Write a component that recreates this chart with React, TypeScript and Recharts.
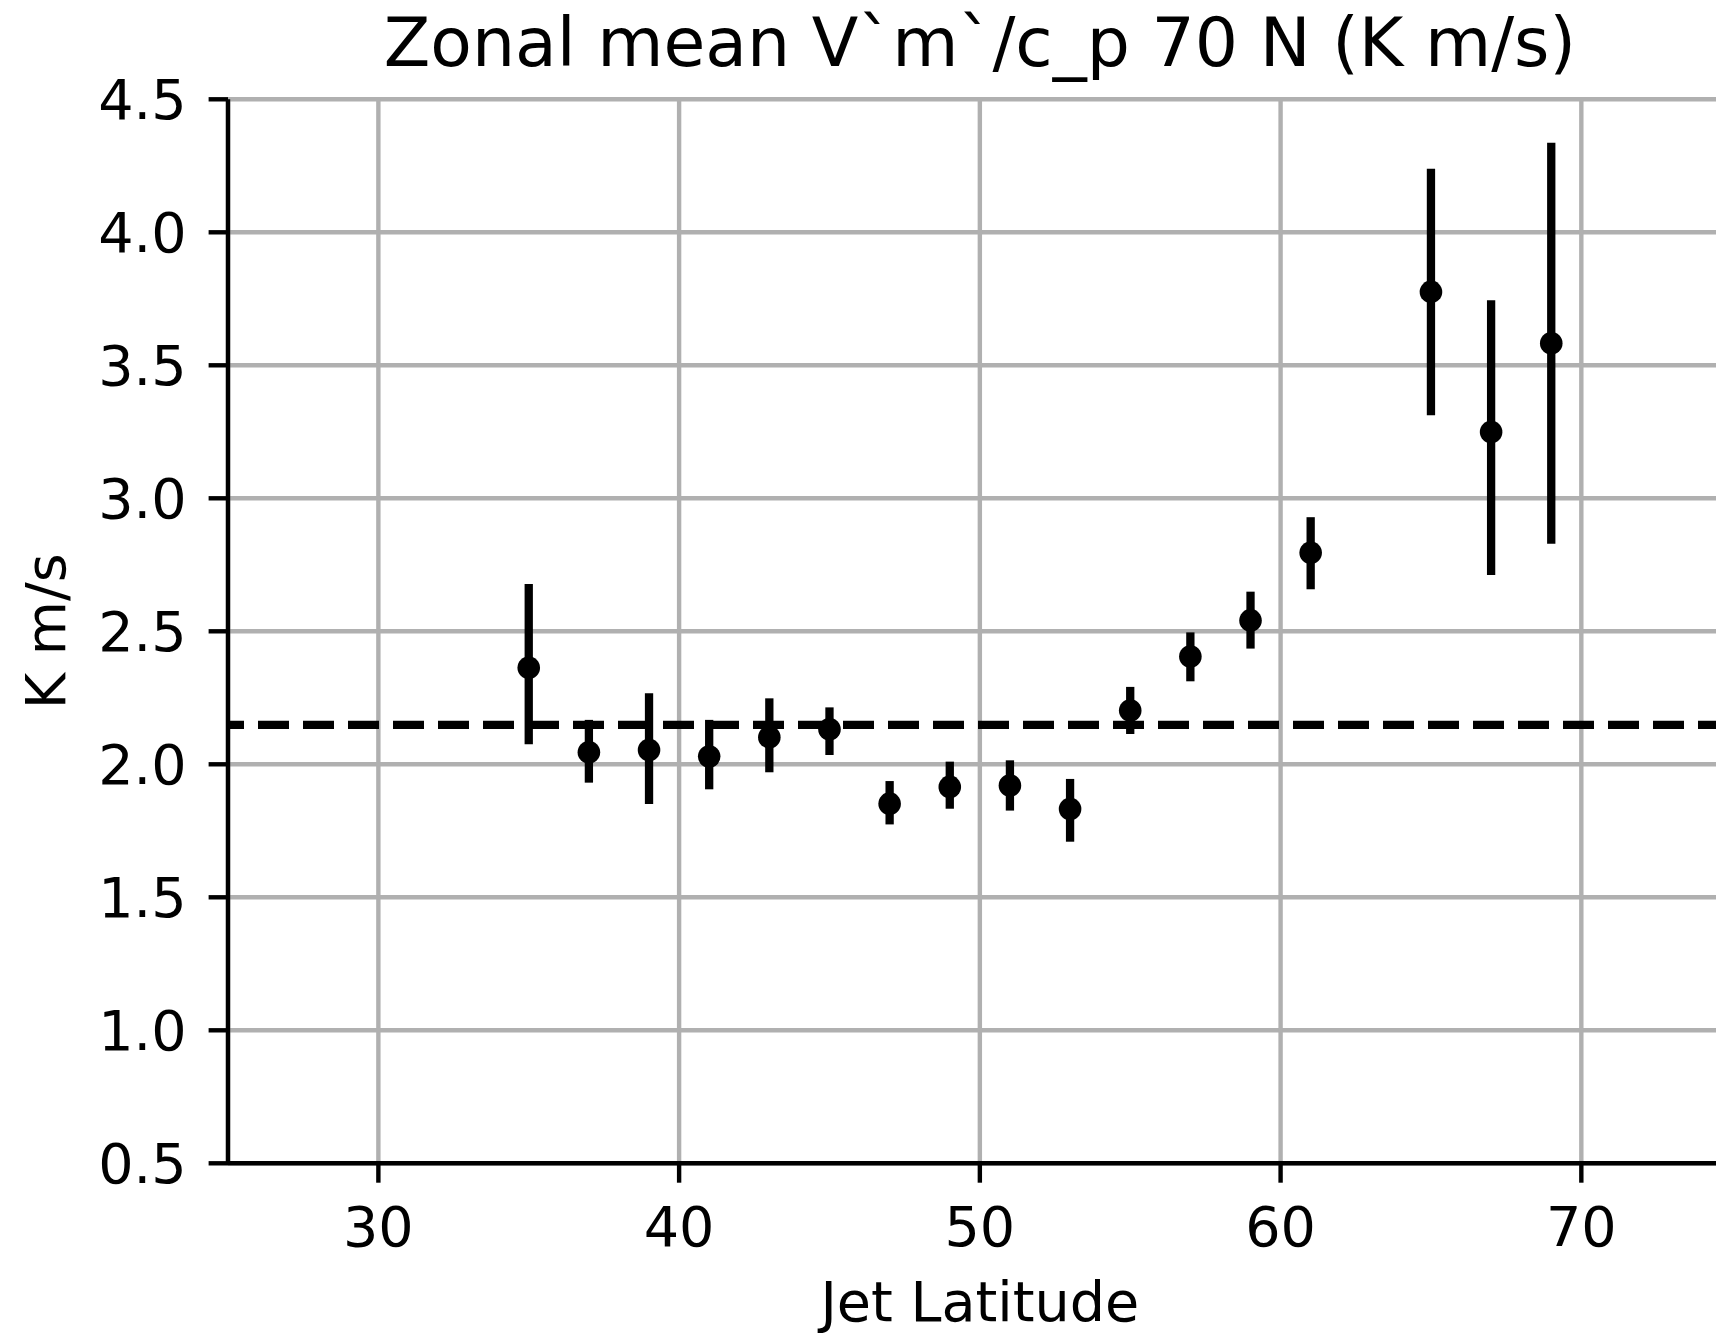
import React from 'react';
import { ScatterChart, Scatter, XAxis, YAxis, CartesianGrid, ErrorBar, ReferenceLine, Label } from 'recharts';

const latitudes = [35, 37, 39, 41, 43, 45, 47, 49, 51, 53, 55, 57, 59, 61, 65, 67, 69];
const means = [2.363, 2.045, 2.054, 2.029, 2.102, 2.132, 1.852, 1.915, 1.92, 1.832, 2.202, 2.405, 2.541, 2.795, 3.776, 3.249, 3.583];
const upperEnds = [2.678, 2.167, 2.267, 2.167, 2.248, 2.214, 1.937, 2.01, 2.015, 1.945, 2.291, 2.496, 2.649, 2.929, 4.239, 3.745, 4.337];
const lowerEnds = [2.075, 1.931, 1.851, 1.906, 1.97, 2.035, 1.774, 1.833, 1.826, 1.709, 2.114, 2.312, 2.435, 2.658, 3.312, 2.712, 2.829];
const overallMean = 2.148;

const xTicks = [30, 40, 50, 60, 70];
const yTicks = [0.5, 1.0, 1.5, 2.0, 2.5, 3.0, 3.5, 4.0, 4.5];

const titleText = 'Zonal mean V`m`/c_p 70 N (K m/s)';
const xLabelText = 'Jet Latitude';
const yLabelText = 'K m/s';

const data = latitudes.map((lat, i) => ({
  lat,
  mean: means[i],
  err: [means[i] - lowerEnds[i], upperEnds[i] - means[i]],
}));

const FONT = 'DejaVu Sans';
const LW = 4.4;

const Dot = (props: any) => {
  const { cx, cy } = props;
  if (cx == null || cy == null) return null;
  return <circle cx={cx} cy={cy} r={11.3} fill="#000" />;
};

export default function App() {
  return (
    <div style={{ position: 'absolute', left: 0, top: 0, width: 1716, height: 1333, overflow: 'hidden', background: '#fff' }}>
      <ScatterChart
        width={1760}
        height={1333}
        margin={{ top: 99.3, right: 28.3, bottom: 0, left: 0 }}
        data={data}
      >
        <CartesianGrid stroke="#b0b0b0" strokeWidth={LW} />
        <XAxis
          xAxisId="top"
          orientation="top"
          type="number"
          dataKey="lat"
          domain={[25, 75]}
          height={0}
          tick={false}
          tickLine={false}
          axisLine={{ stroke: '#000', strokeWidth: LW }}
        />
        <XAxis
          type="number"
          dataKey="lat"
          domain={[25, 75]}
          ticks={xTicks}
          height={169.7}
          tickSize={19.4}
          tickMargin={24}
          tickLine={{ stroke: '#000', strokeWidth: LW }}
          axisLine={{ stroke: '#000', strokeWidth: LW }}
          tick={{ fill: '#000', fontSize: 55.6, fontFamily: FONT }}
          allowDataOverflow
        >
          <Label
            content={(p: any) => {
              const vb = p.viewBox || {};
              return (
                <text x={vb.x + vb.width / 2} y={1321} textAnchor="middle" fontSize={55.6} fontFamily={FONT} fill="#000">
                  {xLabelText}
                </text>
              );
            }}
          />
        </XAxis>
        <YAxis
          type="number"
          dataKey="mean"
          domain={[0.5, 4.5]}
          ticks={yTicks}
          width={228}
          tickSize={19.4}
          tickMargin={22}
          tickFormatter={(v: number) => v.toFixed(1)}
          tickLine={{ stroke: '#000', strokeWidth: LW }}
          axisLine={{ stroke: '#000', strokeWidth: LW }}
          tick={{ fill: '#000', fontSize: 55.6, fontFamily: FONT }}
          allowDataOverflow
        >
          <Label
            content={(p: any) => {
              const vb = p.viewBox || {};
              const x = 65;
              const y = vb.y + vb.height / 2;
              return (
                <text x={x} y={y} transform={`rotate(-90, ${x}, ${y})`} textAnchor="middle" fontSize={55.6} fontFamily={FONT} fill="#000">
                  {yLabelText}
                </text>
              );
            }}
          />
        </YAxis>
        <ReferenceLine
          y={overallMean}
          stroke="#000"
          strokeWidth={8.3}
          strokeDasharray="31 14"
          strokeDashoffset={15}
        />
        <Scatter data={data} dataKey="mean" shape={<Dot />} isAnimationActive={false} fill="#000">
          <ErrorBar dataKey="err" direction="y" width={0} stroke="#000" strokeWidth={8.3} isAnimationActive={false} />
        </Scatter>
      </ScatterChart>
      <svg width={1716} height={100} style={{ position: 'absolute', left: 0, top: 0, pointerEvents: 'none' }}>
        <text x={979.9} y={66} textAnchor="middle" fontSize={68} fontFamily={FONT} fill="#000">
          {titleText}
        </text>
      </svg>
    </div>
  );
}
